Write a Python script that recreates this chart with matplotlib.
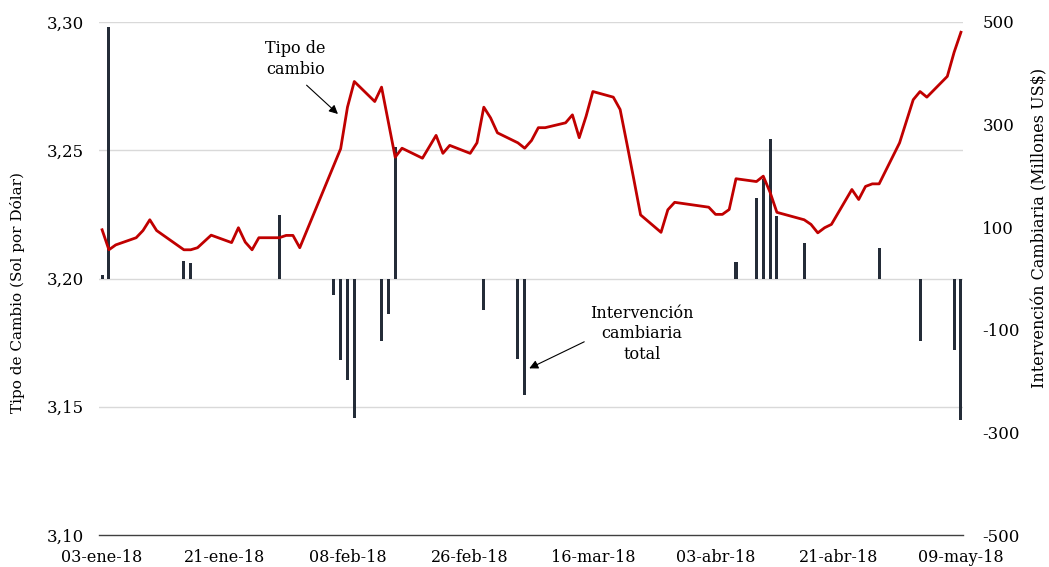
import matplotlib
matplotlib.use("Agg")
import matplotlib.pyplot as plt
import pandas as pd

# ---- data ----
fx_dates = ["2018-01-03", "2018-01-04", "2018-01-05", "2018-01-08", "2018-01-09", "2018-01-10",
            "2018-01-11", "2018-01-15", "2018-01-16", "2018-01-17", "2018-01-19", "2018-01-22",
            "2018-01-23", "2018-01-24", "2018-01-25", "2018-01-26", "2018-01-29", "2018-01-30",
            "2018-01-31", "2018-02-01", "2018-02-07", "2018-02-08", "2018-02-09", "2018-02-12",
            "2018-02-13", "2018-02-15", "2018-02-16", "2018-02-19", "2018-02-21", "2018-02-22",
            "2018-02-23", "2018-02-26", "2018-02-27", "2018-02-28", "2018-03-01", "2018-03-02",
            "2018-03-05", "2018-03-06", "2018-03-07", "2018-03-08", "2018-03-09", "2018-03-12",
            "2018-03-13", "2018-03-14", "2018-03-15", "2018-03-16", "2018-03-19", "2018-03-20",
            "2018-03-21", "2018-03-22", "2018-03-23", "2018-03-26", "2018-03-27", "2018-03-28",
            "2018-04-02", "2018-04-03", "2018-04-04", "2018-04-05", "2018-04-06", "2018-04-09",
            "2018-04-10", "2018-04-11", "2018-04-12", "2018-04-16", "2018-04-17", "2018-04-18",
            "2018-04-19", "2018-04-20", "2018-04-23", "2018-04-24", "2018-04-25", "2018-04-26",
            "2018-04-27", "2018-04-30", "2018-05-02", "2018-05-03", "2018-05-04", "2018-05-07",
            "2018-05-08", "2018-05-09"]
fx_values = [3.2190, 3.2112, 3.2131, 3.2159, 3.2187, 3.2229,
             3.2187, 3.2112, 3.2112, 3.2120, 3.2169, 3.2140,
             3.2198, 3.2142, 3.2112, 3.2159, 3.2159, 3.2168,
             3.2168, 3.2120, 3.2506, 3.2668, 3.2768, 3.2690,
             3.2746, 3.2473, 3.2508, 3.2469, 3.2558, 3.2488,
             3.2519, 3.2488, 3.2529, 3.2668, 3.2626, 3.2568,
             3.2529, 3.2508, 3.2538, 3.2588, 3.2588, 3.2607,
             3.2638, 3.2549, 3.2632, 3.2729, 3.2707, 3.2659,
             3.2525, 3.2388, 3.2248, 3.2180, 3.2268, 3.2297,
             3.2278, 3.2250, 3.2250, 3.2269, 3.2389, 3.2378,
             3.2399, 3.2336, 3.2258, 3.2229, 3.2211, 3.2178,
             3.2198, 3.2211, 3.2347, 3.2308, 3.2359, 3.2369,
             3.2369, 3.2529, 3.2697, 3.2729, 3.2707, 3.2788,
             3.2882, 3.2960]

int_dates = ["2018-01-03", "2018-01-04", "2018-01-15", "2018-01-16", "2018-01-29", "2018-02-06",
             "2018-02-07", "2018-02-08", "2018-02-09", "2018-02-13", "2018-02-14", "2018-02-15",
             "2018-02-28", "2018-03-05", "2018-03-06", "2018-04-06", "2018-04-09", "2018-04-10",
             "2018-04-11", "2018-04-12", "2018-04-16", "2018-04-27", "2018-05-03", "2018-05-08",
             "2018-05-09"]
int_values = [7, 490, 35, 31, 123, -33,
              -158, -197, -271, -122, -70, 256,
              -61, -156, -227, 33, 157, 194,
              271, 121, 70, 60, -122, -140,
              -276]

tick_dates = ["2018-01-03", "2018-01-21", "2018-02-08", "2018-02-26",
              "2018-03-16", "2018-04-03", "2018-04-21", "2018-05-09"]
tick_labels = ["03-ene-18", "21-ene-18", "08-feb-18", "26-feb-18",
               "16-mar-18", "03-abr-18", "21-abr-18", "09-may-18"]
left_ticks = [3.10, 3.15, 3.20, 3.25, 3.30]
right_ticks = [-500, -300, -100, 100, 300, 500]

# ---- plotting ----
plt.rcParams['font.family'] = ['DejaVu Serif']
base = pd.Timestamp("2018-01-03")
def days(lst):
    return [(pd.Timestamp(d) - base).days for d in lst]

fx_x = days(fx_dates)
int_x = days(int_dates)
tick_x = days(tick_dates)

fig = plt.figure(figsize=(10.49, 5.67), dpi=100)
ax = fig.add_axes([0.0944, 0.0564, 0.8236, 0.9048])
ax2 = ax.twinx()

ax.set_zorder(ax2.get_zorder() + 1)
ax.patch.set_visible(False)

ax2.bar(int_x, int_values, width=0.45, color='#242c38', zorder=3)
ax2.set_ylim(-500, 500)
ax2.set_yticks(right_ticks)
ax2.set_yticklabels([str(v) for v in right_ticks])

ax.plot(fx_x, fx_values, color='#c00000', lw=2.0, zorder=4)
ax.set_ylim(3.10, 3.30)
ax.set_yticks(left_ticks)
ax.set_yticklabels([f"{v:.2f}".replace('.', ',') for v in left_ticks])
ax.set_xlim(-0.45, 126.3)
ax.set_xticks(tick_x)
ax.set_xticklabels(tick_labels)

for v in left_ticks[1:]:
    ax2.axhline(ax2.get_ylim()[0] + (v - 3.10) / 0.20 * 1000, color='#d9d9d9', lw=1.0, zorder=0)
ax.axhline(3.10, color='#404040', lw=1.0, zorder=5, clip_on=False)

for a in (ax, ax2):
    for s in a.spines.values():
        s.set_visible(False)
    a.tick_params(length=0, labelsize=11.5, colors='#000000')
ax.tick_params(axis='y', pad=11, labelsize=12)
ax2.tick_params(axis='y', pad=14, labelsize=12)
ax.tick_params(axis='x', pad=10)

fig.text(0.017, 0.485, "Tipo de Cambio (Sol por Dólar)", rotation=90, va='center', ha='center', fontsize=11)
fig.text(0.991, 0.598, "Intervención Cambiaria (Millones US$)", rotation=90, va='center', ha='center', fontsize=11.5)

ax.text(28.35, 3.2856, "Tipo de\ncambio", ha='center', va='center', fontsize=11.5, linespacing=1.25)
ax.annotate('', xy=(34.9, 3.2634), xytext=(29.7, 3.2761),
            arrowprops=dict(arrowstyle='-|>', color='black', lw=0.8, mutation_scale=13))
ax.text(79.2, 3.1784, "Intervención\ncambiaria\ntotal", ha='center', va='center', fontsize=11.5, linespacing=1.25)
ax.annotate('', xy=(62.3, 3.1645), xytext=(71.1, 3.1758),
            arrowprops=dict(arrowstyle='-|>', color='black', lw=0.8, mutation_scale=13))

fig.savefig("out.png", dpi=100)
